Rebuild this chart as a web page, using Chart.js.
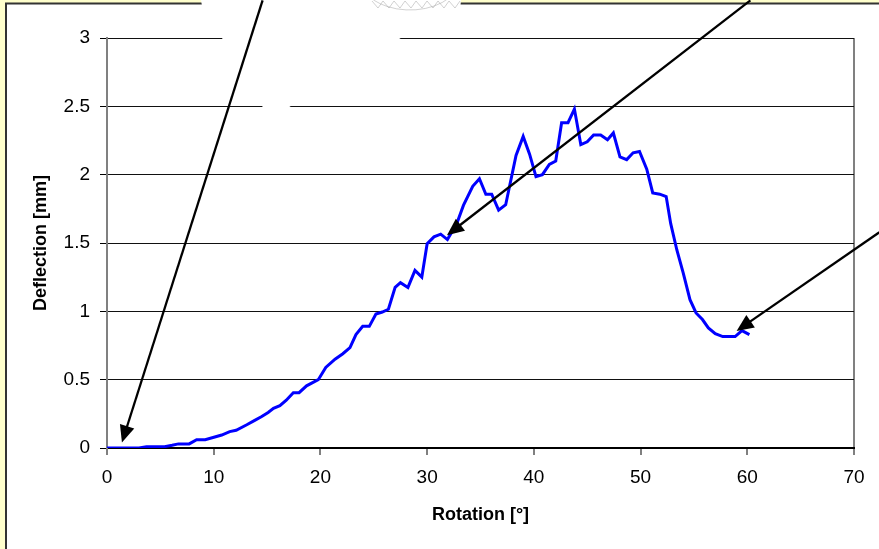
<!DOCTYPE html>
<html><head><meta charset="utf-8">
<script src="https://cdn.jsdelivr.net/npm/chart.js@4.4.1/dist/chart.umd.min.js"></script>
<style>html,body{margin:0;padding:0;background:#FFFFCC;overflow:hidden}canvas{display:block}</style>
</head><body>
<canvas id="c" width="879" height="549"></canvas>
<script>
const rotation = [0,1,2,3,3.7,4.5,5.4,6.1,6.7,7.7,8.4,9.2,10.1,10.75,11.5,12.1,13.1,13.8,14.5,15.1,15.6,16.2,16.8,17.46,18.0,18.7,19.8,20.5,21.37,22.1,22.77,23.33,23.96,24.58,25.2,25.8,26.37,27.0,27.5,28.2,28.86,29.5,30.0,30.64,31.27,31.9,32.77,33.4,34.27,34.9,35.5,36.05,36.7,37.36,38.33,39.0,39.6,40.2,40.8,41.45,42.05,42.6,43.2,43.8,44.4,45.0,45.6,46.26,46.9,47.45,48.07,48.7,49.3,49.9,50.58,51.14,51.8,52.4,52.82,53.4,54.0,54.63,55.2,55.8,56.35,57.0,57.7,58.3,58.86,59.5,60.2];
const deflection = [0,0,0,0,0.01,0.01,0.01,0.02,0.03,0.03,0.06,0.06,0.08,0.095,0.12,0.13,0.17,0.2,0.23,0.26,0.29,0.31,0.35,0.405,0.405,0.455,0.5,0.59,0.65,0.69,0.735,0.83,0.89,0.89,0.98,0.995,1.015,1.175,1.21,1.175,1.30,1.25,1.495,1.545,1.565,1.525,1.64,1.775,1.915,1.97,1.857,1.857,1.74,1.78,2.14,2.28,2.15,1.985,2.0,2.075,2.10,2.38,2.38,2.48,2.22,2.24,2.29,2.29,2.255,2.305,2.13,2.11,2.16,2.17,2.04,1.866,1.857,1.84,1.643,1.449,1.28,1.085,0.988,0.94,0.879,0.837,0.815,0.815,0.815,0.859,0.83];
const xTicks = [0,10,20,30,40,50,60,70];
const yTicks = [0,0.5,1,1.5,2,2.5,3];
const xTitle = 'Rotation [°]';
const yTitle = 'Deflection [mm]';
// arrow annotations in data units (tail -> tip)
const arrowTails = [[14.58,3.275],[60.29,3.275],[72.38,1.579]];
const arrowTips = [[1.4,0.04],[31.86,1.557],[59.0,0.857]];

const frame = {id:'frame', beforeDraw(chart){
  const ctx = chart.ctx, W = chart.width, H = chart.height;
  ctx.save();
  ctx.fillStyle = '#FFFFCC'; ctx.fillRect(0,0,W,H);
  ctx.fillStyle = '#FFFFFF'; ctx.fillRect(7,4,W-7,H-4);
  ctx.strokeStyle = '#333333'; ctx.lineWidth = 2;
  ctx.beginPath(); ctx.moveTo(6,H); ctx.lineTo(6,3.5); ctx.lineTo(W,3.5); ctx.stroke();
  ctx.restore();
}};
const overlay = {id:'overlay', beforeDatasetsDraw(chart){
  const ctx = chart.ctx;
  ctx.save();
  ctx.fillStyle = '#FFFFFF';
  ctx.beginPath();
  ctx.moveTo(201,0); ctx.lineTo(461,0); ctx.lineTo(460,11); ctx.lineTo(404,36); ctx.lineTo(294,104);
  ctx.lineTo(272,118); ctx.lineTo(262,106); ctx.lineTo(222,38); ctx.lineTo(203,12); ctx.closePath();
  ctx.fill();
  ctx.strokeStyle = 'rgba(150,150,150,0.55)'; ctx.lineWidth = 0.8;
  ctx.beginPath(); ctx.ellipse(410,-22,50,32,0,0.15*Math.PI,0.85*Math.PI); ctx.stroke();
  ctx.beginPath();
  for(let i=0;i<8;i++){ const px=372+i*11; ctx.moveTo(px,1); ctx.lineTo(px+6,8); ctx.lineTo(px+11,1); }
  ctx.stroke();
  ctx.restore();
}};
const arrows = {id:'arrows', afterDatasetsDraw(chart){
  const {ctx, scales:{x,y}} = chart;
  ctx.save(); ctx.strokeStyle='#000'; ctx.fillStyle='#000'; ctx.lineWidth=2.3;
  arrowTips.forEach((t,i)=>{
    const x1=x.getPixelForValue(arrowTails[i][0]), y1=y.getPixelForValue(arrowTails[i][1]);
    const x2=x.getPixelForValue(t[0]), y2=y.getPixelForValue(t[1]);
    const a=Math.atan2(y2-y1,x2-x1), L=17, Wd=7.5;
    const bx=x2-L*Math.cos(a), by=y2-L*Math.sin(a);
    ctx.beginPath(); ctx.moveTo(x1,y1); ctx.lineTo(bx+2*Math.cos(a),by+2*Math.sin(a)); ctx.stroke();
    ctx.beginPath(); ctx.moveTo(x2,y2);
    ctx.lineTo(bx+Wd*Math.sin(a), by-Wd*Math.cos(a));
    ctx.lineTo(bx-Wd*Math.sin(a), by+Wd*Math.cos(a));
    ctx.closePath(); ctx.fill();
  });
  ctx.restore();
}};

const FONT = "'Liberation Sans', Arial, sans-serif";
new Chart(document.getElementById('c'), {
  type: 'scatter',
  data: { datasets: [{
    data: rotation.map((r,i)=>({x:r, y:deflection[i]})),
    showLine: true, borderColor: '#0000FF', borderWidth: 3, pointRadius: 0, tension: 0, fill: false
  }]},
  options: {
    responsive: false, animation: false, events: [],
    layout: { padding: { left: 0, right: 25, top: 38, bottom: 0 } },
    plugins: { legend: {display:false}, tooltip: {enabled:false} },
    scales: {
      x: {
        type: 'linear', min: 0, max: 70,
        afterBuildTicks: s => { s.ticks = xTicks.map(v=>({value:v})); },
        afterFit: s => { s.height = 101; },
        ticks: { color:'#000', font:{family:FONT, size:19}, padding: 11, maxRotation:0, autoSkip:false },
        grid: { drawOnChartArea: true, color: c => (c.tick && c.tick.value===70) ? '#808080' : 'rgba(0,0,0,0)',
                lineWidth: 2, tickColor:'#808080', tickWidth: 2, tickLength: 7 },
        border: { color:'#000', width: 2 },
        title: { display:true, text:xTitle, color:'#000', font:{family:FONT, size:18, weight:'bold'}, padding:{top:0,bottom:23} }
      },
      y: {
        min: 0, max: 3,
        afterBuildTicks: s => { s.ticks = yTicks.map(v=>({value:v})); },
        afterFit: s => { s.width = 107; },
        ticks: { color:'#000', font:{family:FONT, size:19}, padding: 10, callback: v => String(v) },
        grid: { color:'#111', lineWidth: 1, tickColor:'#000', tickWidth: 1, tickLength: 7 },
        border: { color:'#808080', width: 2 },
        title: { display:true, text:yTitle, color:'#000', font:{family:FONT, size:18, weight:'bold'}, padding:{top:30,bottom:0} }
      }
    }
  },
  plugins: [frame, overlay, arrows]
});
</script>
</body></html>
